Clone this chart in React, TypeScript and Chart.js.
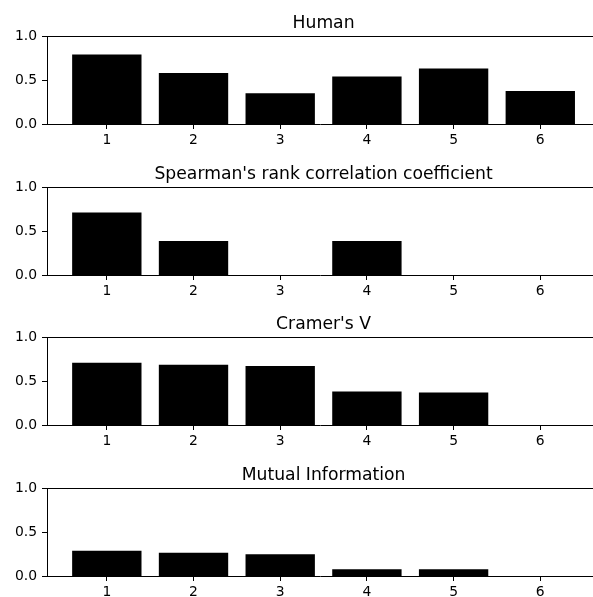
import React, { useEffect, useRef } from "react";
import { Chart, registerables } from "chart.js";

Chart.register(...registerables);

const categories = [1, 2, 3, 4, 5, 6];
const yTickValues = [0, 0.5, 1.0];
const titles = [
  "Human",
  "Spearman's rank correlation coefficient",
  "Cramer's V",
  "Mutual Information",
];
const humanValues = [0.79, 0.58, 0.35, 0.54, 0.63, 0.375];
const spearmanValues = [0.71, 0.385, 0, 0.385, 0, 0];
const cramerValues = [0.707, 0.685, 0.67, 0.38, 0.368, 0];
const mutualValues = [0.286, 0.263, 0.247, 0.076, 0.076, 0];

const seriesList = [humanValues, spearmanValues, cramerValues, mutualValues];
const axesTops = [36, 187, 337, 488];

const FONT = "DejaVu Sans";
const CANVAS_W = 593;
const CANVAS_H = 145;
const PAD_TOP = 30;
const AXIS_H = 27;
const YAXIS_W = 47;
const TICK_LEN = 5;

const decorPlugin = {
  id: "decor",
  afterDraw(chart: any) {
    const { ctx, chartArea } = chart;
    const xs = chart.scales.x;
    const ys = chart.scales.y;
    ctx.save();
    ctx.strokeStyle = "#000";
    ctx.lineWidth = 1;
    // top spine
    const yTop = Math.round(chartArea.top) + 0.5;
    ctx.beginPath();
    ctx.moveTo(chartArea.left, yTop);
    ctx.lineTo(chartArea.right, yTop);
    ctx.stroke();
    // y tick marks
    const xl = Math.round(chartArea.left);
    for (const v of yTickValues) {
      const py = Math.round(ys.getPixelForValue(v)) + 0.5;
      ctx.beginPath();
      ctx.moveTo(xl - TICK_LEN, py);
      ctx.lineTo(xl, py);
      ctx.stroke();
    }
    // title
    ctx.fillStyle = "#000";
    ctx.font = `17.2px "${FONT}"`;
    ctx.textAlign = "center";
    ctx.textBaseline = "alphabetic";
    const cx = xs.getPixelForValue(3.5);
    ctx.fillText(chart.options.plugins.decor.title, cx, chartArea.top - 8);
    ctx.restore();
  },
};

function Panel({ title, values, top }: { title: string; values: number[]; top: number }) {
  const ref = useRef<HTMLCanvasElement | null>(null);
  useEffect(() => {
    if (!ref.current) return;
    const chart = new Chart(ref.current, {
      type: "bar",
      data: {
        datasets: [
          {
            data: categories.map((c, i) => ({ x: c, y: values[i] })),
            backgroundColor: "#000",
            borderWidth: 0,
            inflateAmount: 0,
            barPercentage: 0.8,
            categoryPercentage: 1.0,
          },
        ],
      },
      options: {
        animation: false,
        responsive: false,
        maintainAspectRatio: false,
        devicePixelRatio: 1,
        layout: { padding: { top: PAD_TOP, left: 0, right: 0, bottom: 0 } },
        plugins: {
          legend: { display: false },
          tooltip: { enabled: false },
          title: { display: false },
          decor: { title },
        } as any,
        scales: {
          x: {
            type: "linear",
            min: 0.31,
            max: 6.608,
            offset: false,
            grid: {
              display: true,
              offset: false,
              drawOnChartArea: false,
              drawTicks: true,
              tickLength: TICK_LEN,
              tickColor: "#000",
              tickWidth: 1,
            },
            border: { display: true, color: "#000", width: 1, z: 1 },
            ticks: {
              color: "#000",
              font: { family: FONT, size: 13.9 },
              padding: 3,
              maxRotation: 0,
              autoSkip: false,
              callback: (v: any) => String(v),
            },
            afterBuildTicks: (s: any) => {
              s.ticks = categories.map((v) => ({ value: v }));
            },
            afterFit: (s: any) => {
              s.height = AXIS_H;
            },
          },
          y: {
            type: "linear",
            min: 0,
            max: 1,
            grid: {
              display: true,
              drawOnChartArea: false,
              drawTicks: true,
              tickLength: TICK_LEN,
              lineWidth: 0,
              tickWidth: 0,
              tickColor: "#000",
            },
            border: { display: true, color: "#000", width: 1 },
            ticks: {
              color: "#000",
              font: { family: FONT, size: 13.9 },
              padding: 5,
              callback: (v: any) => Number(v).toFixed(1),
            },
            afterBuildTicks: (s: any) => {
              s.ticks = yTickValues.map((v) => ({ value: v }));
            },
            afterFit: (s: any) => {
              s.width = YAXIS_W;
            },
          },
        } as any,
      },
      plugins: [decorPlugin],
    } as any);
    return () => chart.destroy();
  }, [title, values]);
  return (
    <canvas
      ref={ref}
      width={CANVAS_W}
      height={CANVAS_H}
      style={{
        position: "absolute",
        left: 0,
        top: top - PAD_TOP,
        width: CANVAS_W,
        height: CANVAS_H,
      }}
    />
  );
}

export default function App() {
  return (
    <div
      style={{
        position: "absolute",
        left: 0,
        top: 0,
        width: 593,
        height: 597,
        overflow: "hidden",
        background: "#fff",
      }}
    >
      {titles.map((t, i) => (
        <Panel key={t} title={t} values={seriesList[i]} top={axesTops[i]} />
      ))}
    </div>
  );
}
